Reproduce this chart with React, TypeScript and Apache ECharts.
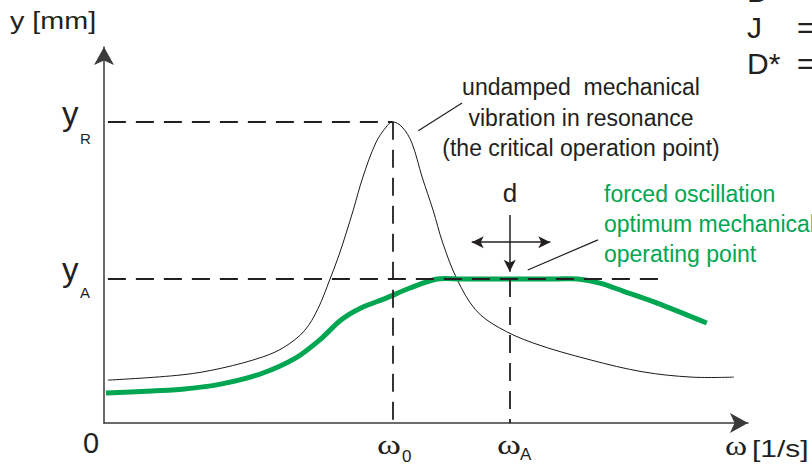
import React, { useEffect, useRef } from "react";
import * as echarts from "echarts";

// Undamped resonance curve (arbitrary units: ω 0..100, y 0..100)
const undampedCurve: [number, number][] = [
  [0.6, 11.4], [12.1, 12.8], [18.3, 14.6], [24.7, 17.6], [28.0, 20.2], [31.1, 24.5],
  [33.2, 30.3], [35.1, 38.3], [36.5, 44.7], [37.6, 50.5], [38.7, 56.6], [40.2, 65.4],
  [42.2, 74.5], [43.8, 78.7], [44.8, 80.1], [46.3, 78.7], [47.8, 74.5], [49.4, 65.4],
  [51.1, 56.6], [52.6, 47.9], [54.8, 38.3], [57.7, 30.1], [61.2, 25.5], [66.6, 21.3],
  [75.5, 16.8], [83.7, 13.6], [91.3, 12.2], [97.8, 12.2],
];

// Forced oscillation (green) curve
const forcedCurve: [number, number][] = [
  [0.3, 8.0], [12.1, 9.0], [18.3, 10.4], [24.7, 13.3], [29.8, 17.3], [33.5, 22.1],
  [36.8, 27.4], [39.9, 30.6], [43.8, 33.2], [47.5, 35.9], [51.7, 38.3], [55.3, 38.3],
  [70.5, 38.3], [73.6, 38.3], [77.0, 37.2], [80.6, 35.1], [85.9, 31.9], [93.6, 26.6],
];

const omega0 = 44.8;
const omegaA = 63.0;
const yR = 80.1;
const yA = 38.3;
const yALineEnd = 86.6;
const axisStart = 0.6;

// annotation arrows / leader lines (data units)
const dVertical: [number, number][] = [[63.0, 55.3], [63.0, 40.2]];
const dHorizontal: [number, number][] = [[57.1, 48.1], [69.3, 48.1]];
const undampedLeader: [number, number][] = [[48.8, 77.7], [55.6, 85.1]];
const forcedLeader: [number, number][] = [[65.8, 40.7], [76.7, 48.7]];

const undampedLabel = ["undamped  mechanical", "vibration in resonance", "(the critical operation point)"];
const forcedLabel = ["forced oscillation", "optimum mechanical", "operating point"];
const legendSymbols = ["D", "J", "D*"];

const SANS = "'Liberation Sans', Arial, Helvetica, sans-serif";
const SERIF = "'Liberation Serif', 'Times New Roman', serif";
const GREEN = "#00a651";
const INK = "#231f20";

function txt(text: string, x: number, y: number, size: number, o: any = {}) {
  return {
    type: "text",
    x,
    y,
    scaleX: o.scaleX || 1,
    silent: true,
    style: {
      text,
      fontSize: size,
      fontFamily: o.family || SANS,
      fill: o.fill || INK,
      align: o.align || "left",
      textAlign: o.align || "left",
      verticalAlign: "middle",
      textVerticalAlign: "middle",
    },
  };
}

function curveSeries(name: string, data: [number, number][], style: any, smooth: number, z: number) {
  return {
    name,
    type: "custom",
    coordinateSystem: "cartesian2d",
    data,
    encode: { x: 0, y: 1 },
    clip: false,
    silent: true,
    z,
    renderItem: (params: any, api: any) => {
      if (params.dataIndex !== 0) return null;
      const pts = data.map((p) => api.coord(p));
      return {
        type: "polyline",
        shape: { points: pts, smooth },
        style: { fill: "none", ...style },
      };
    },
  };
}

export default function App() {
  const ref = useRef<HTMLDivElement>(null);
  useEffect(() => {
    if (!ref.current) return;
    const chart = echarts.init(ref.current, undefined, { renderer: "svg" });
    const dash = { color: INK, width: 1.8, type: [18, 10] as any };
    const seg = (p: [number, number][]) => [{ coord: p[0] }, { coord: p[1] }];
    const graphics: any[] = [
      txt("y [mm]", 10, 21, 23, { scaleX: 1.25 }),
      txt("y", 62, 113.5, 33),
      txt("R", 80, 138, 15),
      txt("y", 62, 269.5, 33),
      txt("A", 80, 292, 15),
      txt("0", 83, 443, 29),
      txt("ω", 377, 445, 28, { family: SERIF, scaleX: 1.3 }),
      txt("0", 402, 456, 17),
      txt("ω", 497, 445, 28, { family: SERIF, scaleX: 1.3 }),
      txt("A", 520, 454, 17),
      txt("ω", 725, 445, 28, { family: SERIF, scaleX: 1.2 }),
      txt("[1/s]", 752, 449, 23, { scaleX: 1.3 }),
      txt("d", 510, 193, 26, { align: "center" }),
    ];
    undampedLabel.forEach((t, i) => graphics.push(txt(t, 581, 87 + i * 30.5, 23, { align: "center" })));
    forcedLabel.forEach((t, i) => graphics.push(txt(t, 604, 194 + i * 30, 23, { fill: GREEN })));
    legendSymbols.forEach((t, i) => {
      graphics.push(txt(t, 747, -8.5 + i * 36, 30));
      graphics.push(txt("=", 797, -8.5 + i * 36, 30));
    });

    const axisLine = {
      show: true, symbol: ["none", "arrow"], symbolSize: [15, 18],
      lineStyle: { color: "#3a3a3a", width: 1.5 },
    };
    chart.setOption({
      animation: false,
      grid: { left: 104, right: 64, top: 47, bottom: 41 },
      xAxis: {
        type: "value", min: 0, max: 100, axisLine,
        axisTick: { show: false }, axisLabel: { show: false }, splitLine: { show: false },
      },
      yAxis: {
        type: "value", min: 0, max: 100, axisLine,
        axisTick: { show: false }, axisLabel: { show: false }, splitLine: { show: false },
      },
      graphic: graphics,
      series: [
        curveSeries("undamped", undampedCurve, { stroke: "#1a1a1a", lineWidth: 1, lineJoin: "round" }, 0.35, 2),
        curveSeries("forced", forcedCurve, { stroke: GREEN, lineWidth: 5, lineCap: "butt", lineJoin: "round" }, 0.3, 3),
        {
          name: "guides", type: "line", data: [], symbol: "none", z: 5, silent: true,
          markLine: {
            silent: true, symbol: ["none", "none"], label: { show: false }, lineStyle: dash,
            emphasis: { disabled: true },
            data: [
              [{ coord: [axisStart, yR] }, { coord: [omega0, yR] }],
              [{ coord: [omega0, yR] }, { coord: [omega0, 0] }],
              [{ coord: [axisStart, yA] }, { coord: [yALineEnd, yA] }],
              [{ coord: [omegaA, yA] }, { coord: [omegaA, 0] }],
            ],
          },
        },
        {
          name: "leaders", type: "line", data: [], symbol: "none", z: 6, silent: true,
          markLine: {
            silent: true, symbol: ["none", "none"], label: { show: false },
            lineStyle: { color: INK, width: 1.2, type: "solid" }, emphasis: { disabled: true },
            data: [seg(undampedLeader), seg(forcedLeader)],
          },
        },
        {
          name: "d-vertical", type: "line", data: [], symbol: "none", z: 6, silent: true,
          markLine: {
            silent: true, symbol: ["none", "arrow"], symbolSize: [9, 12], label: { show: false },
            lineStyle: { color: INK, width: 1.5, type: "solid" }, emphasis: { disabled: true },
            data: [seg(dVertical)],
          },
        },
        {
          name: "d-horizontal", type: "line", data: [], symbol: "none", z: 6, silent: true,
          markLine: {
            silent: true, symbol: ["arrow", "arrow"], symbolSize: [9, 12], label: { show: false },
            lineStyle: { color: INK, width: 1.5, type: "solid" }, emphasis: { disabled: true },
            data: [seg(dHorizontal)],
          },
        },
      ],
    });
    return () => chart.dispose();
  }, []);
  return <div ref={ref} style={{ position: "fixed", left: 0, top: 0, width: 812, height: 464, background: "#fff" }} />;
}
